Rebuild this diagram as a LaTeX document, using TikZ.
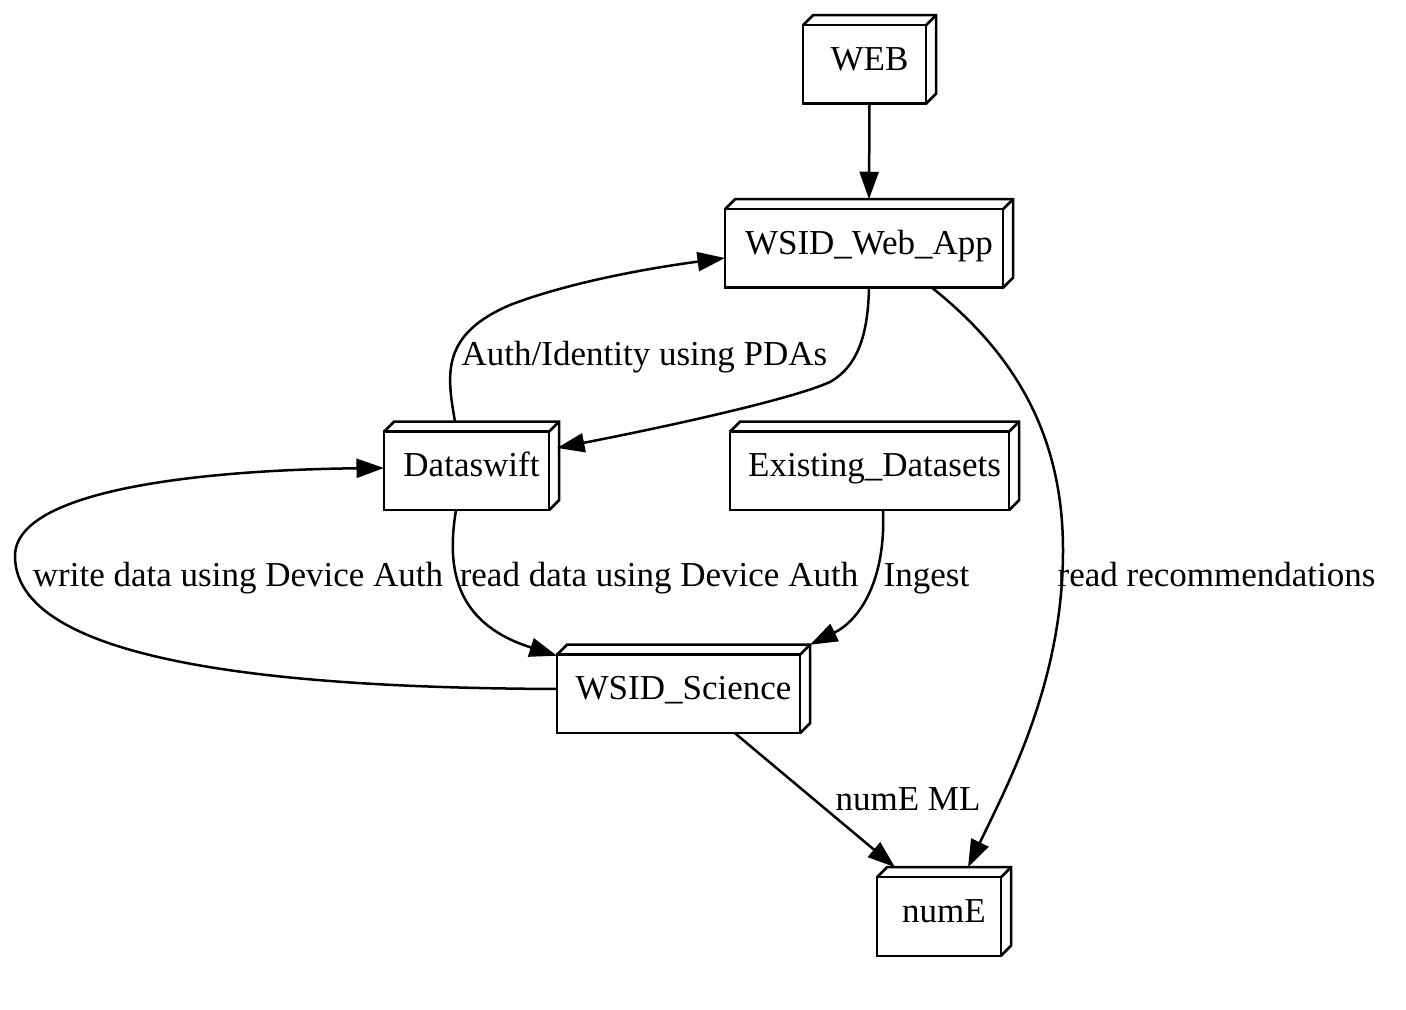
\documentclass[tikz,border=0pt]{standalone}
\usepackage{fontspec}
\setmainfont{Liberation Serif}
\usetikzlibrary{arrows.meta,calc}
\newcommand{\boxthreed}[1]{%
  \draw[boxline] (#1.south west) rectangle ($(#1.north east)+(-4pt,-4pt)$);
  \draw[boxline] ($(#1.north west)+(0pt,-4pt)$) -- ($(#1.north west)+(4pt,0pt)$) -- (#1.north east) -- ($(#1.south east)+(0pt,4pt)$) -- ($(#1.south east)+(-4pt,0pt)$);
  \draw[boxline] ($(#1.north east)+(-4pt,-4pt)$) -- (#1.north east);
}
\begin{document}
\begin{tikzpicture}[x=0.4pt,y=-0.4pt,
  boxline/.style={line width=1pt, line join=miter},
  gnode/.style={rectangle, draw=none, inner sep=0pt, outer sep=0pt, font=\fontsize{14pt}{16pt}\selectfont, text height=10pt, text depth=1.5pt, minimum height=35.4pt},
  elabel/.style={anchor=base, inner sep=0pt, font=\fontsize{14pt}{16pt}\selectfont},
  conn/.style={line width=1pt, -{Triangle[length=11pt,width=7.6pt]}}]
\useasboundingbox (0,0) rectangle (1406,1010);
\fill[white] (0,0) rectangle (1406,1010);
% nodes
\node[gnode, minimum width=53.2pt] (web) at (869.5,59.5) {WEB};
\node[gnode, minimum width=115.2pt] (wapp) at (869,243.5) {WSID\_Web\_App};
\node[gnode, minimum width=70pt] (ds) at (471.5,466) {Dataswift};
\node[gnode, minimum width=115.6pt] (ed) at (874.5,466) {Existing\_Datasets};
\node[gnode, minimum width=101.2pt] (sci) at (683.5,689) {WSID\_Science};
\node[gnode, minimum width=53.6pt] (nume) at (944,911.5) {numE};
\boxthreed{web}
\boxthreed{wapp}
\boxthreed{ds}
\boxthreed{ed}
\boxthreed{sci}
\boxthreed{nume}
% edges
\draw[conn] (web.south) -- (wapp.north);
\draw[conn] ([xshift=-6.6pt]ds.north) .. controls (447,375) and (440,335) .. (510,305) .. controls (570,282) and (650,268) .. ([yshift=-5.8pt]wapp.west);
\draw[conn] (wapp.south) .. controls (868,330) and (860,365) .. (830,382) .. controls (790,400) and (660,428) .. ([xshift=-0.8pt,yshift=7.2pt]ds.east);
\draw[conn] ([xshift=-6.2pt]ds.south) .. controls (445,575) and (460,625) .. ([yshift=-4.4pt]sci.north west);
\draw[conn] (sci.west) .. controls (330,688) and (15,672) .. (15,556) .. controls (15,490) and (200,470) .. ([yshift=-0.8pt]ds.west);
\draw[conn] ([xshift=3.4pt]ed.south) .. controls (886,580) and (860,620) .. (sci.north east);
\draw[conn] ([xshift=25.2pt]wapp.south) .. controls (1010,350) and (1063,430) .. (1063,550) .. controls (1063,680) and (1010,780) .. ([xshift=9.6pt]nume.north);
\draw[conn] ([xshift=20.6pt]sci.south) -- ([xshift=-19.6pt]nume.north);
% labels
\node[elabel] (l1) at (644.5,366) {Auth/Identity using PDAs};
\node[elabel] (l2) at (238,587) {write data using Device Auth};
\node[elabel] (l3) at (659,587) {read data using Device Auth};
\node[elabel] (l4) at (926.5,587) {Ingest};
\node[elabel] (l5) at (1216.5,587) {read recommendations};
\node[elabel] (l6) at (908,811) {numE ML};
\end{tikzpicture}
\end{document}
